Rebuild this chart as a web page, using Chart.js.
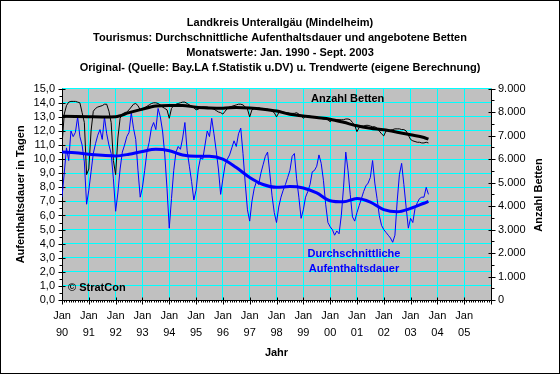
<!DOCTYPE html>
<html lang="de">
<head>
<meta charset="UTF-8">
<title>Landkreis Unterallgäu – Tourismus</title>
<script src="https://cdn.jsdelivr.net/npm/chart.js"></script>
<style>
  body { margin: 0; background: #fff; }
  #rahmen { width: 560px; height: 374px; position: relative; }
</style>
</head>
<body>
<div id="rahmen"><canvas id="chart"></canvas></div>
<script>
// Monatswerte Jan. 1990 - Sept. 2003 (x = Monate seit Jan. 1990)
const jahre = ['90','91','92','93','94','95','96','97','98','99','00','01','02','03','04','05'];

// Durchschnittliche Aufenthaltsdauer in Tagen (Originalwerte)
const dauer = [
  7.3, 9.0, 10.8, 9.9, 12.0, 11.6, 11.9, 13.0, 11.6, 11.0, 9.8, 6.8,
  7.8, 9.1, 10.4, 11.1, 11.7, 12.1, 11.4, 13.0, 11.8, 11.0, 10.4, 8.6,
  6.3, 7.6, 9.3, 10.5, 11.0, 11.6, 11.9, 13.3, 12.2, 11.4, 9.2, 7.3,
  8.0, 9.2, 10.5, 11.2, 12.2, 12.6, 12.1, 13.6, 13.0, 12.0, 10.3, 7.9,
  5.1, 7.2, 9.2, 10.5, 10.9, 10.7, 11.5, 12.6, 10.6, 9.5, 8.4, 7.1,
  7.8, 9.3, 10.1, 10.0, 11.0, 12.0, 11.6, 12.9, 11.8, 10.6, 9.3, 7.5,
  8.6, 9.6, 10.0, 10.3, 10.8, 11.3, 10.9, 11.8, 12.2, 10.4, 8.3, 6.4,
  5.6, 7.0, 7.9, 8.4, 8.2, 9.0, 9.6, 10.2, 10.5, 9.0, 7.4, 6.2,
  5.5, 6.6, 7.3, 7.8, 8.2, 8.7, 9.2, 10.2, 10.4, 8.6, 7.3, 5.8,
  6.4, 7.3, 7.7, 8.2, 9.1, 9.2, 9.5, 10.3, 9.7, 8.5, 6.8, 5.5,
  5.2, 5.0, 4.6, 4.9, 4.7, 6.0, 8.0, 10.5, 9.2, 7.5, 5.9, 5.6,
  6.2, 6.7, 7.2, 7.7, 8.1, 8.3, 8.7, 9.9, 8.3, 7.2, 6.0, 5.3,
  5.0, 4.8, 4.6, 4.4, 4.1, 4.6, 7.0, 8.9, 9.7, 8.2, 6.6, 5.1,
  5.8, 5.5, 6.5, 6.9, 7.2, 7.3, 7.3, 8.0, 7.5
];

// Anzahl angebotener Betten (Originalwerte)
const betten = [
  6600, 7920, 8280, 8430, 8460, 8460, 8460, 8430, 8400, 7980, 7560, 5340,
  5580, 7200, 8040, 8160, 8220, 8250, 8280, 8340, 8340, 8040, 7560, 5940,
  5340, 6900, 7740, 7920, 7980, 8010, 8100, 8220, 8340, 8370, 8280, 8100,
  8100, 8190, 8250, 8310, 8370, 8400, 8400, 8370, 8310, 8220, 8160, 8100,
  7740, 8160, 8280, 8340, 8370, 8400, 8430, 8430, 8370, 8310, 8250, 8190,
  8100, 8130, 8190, 8220, 8220, 8220, 8190, 8160, 8130, 8070, 8010, 7980,
  7920, 8040, 8160, 8220, 8250, 8280, 8310, 8340, 8340, 8310, 8220, 8130,
  7800, 8100, 8160, 8160, 8190, 8160, 8160, 8130, 8130, 8100, 8040, 7980,
  7800, 7980, 8010, 8010, 7980, 7980, 7950, 7950, 7950, 7980, 7920, 7860,
  7740, 7830, 7860, 7830, 7800, 7800, 7770, 7770, 7740, 7710, 7710, 7680,
  7590, 7680, 7680, 7680, 7680, 7680, 7680, 7710, 7710, 7680, 7560, 7440,
  7170, 7350, 7410, 7410, 7440, 7440, 7410, 7380, 7380, 7320, 7200, 7080,
  6990, 7200, 7230, 7230, 7260, 7290, 7290, 7290, 7260, 7260, 7200, 7020,
  6840, 6780, 6750, 6720, 6720, 6690, 6690, 6720, 6690
];

const trendMonate = [0, 6, 12, 18, 24, 30, 36, 42, 48, 54, 60, 66, 72, 78, 84, 90, 96, 102, 108, 114, 120, 126, 132, 138, 144, 150, 156, 162, 164];
const dauerTrend = [10.5, 10.45, 10.35, 10.28, 10.23, 10.35, 10.55, 10.7, 10.6, 10.3, 10.2, 10.2, 10.0, 9.4, 8.7, 8.2, 8.0, 8.05, 7.95, 7.6, 7.05, 6.97, 7.2, 6.95, 6.42, 6.26, 6.5, 6.87, 7.0];
const bettenTrend = [7830, 7820, 7810, 7800, 7810, 7980, 8130, 8260, 8290, 8290, 8210, 8180, 8170, 8200, 8180, 8130, 8050, 7910, 7840, 7770, 7700, 7570, 7420, 7320, 7250, 7150, 7040, 6920, 6850];

const schrift = "'Liberation Sans', Arial, sans-serif";
Chart.defaults.font.family = schrift;
Chart.defaults.font.size = 11;
Chart.defaults.color = '#000';

const monatsPunkte = arr => arr.map((v, i) => ({ x: i, y: v }));
const trendPunkte = arr => arr.map((v, i) => ({ x: trendMonate[i], y: v }));
const tausender = v => String(v).replace(/\B(?=(\d{3})+(?!\d))/g, '.');

const px = v => Math.round(v) + 0.5;

// grauer Hintergrund, Achsen mit Teilstrichen, Beschriftungen im Diagramm
const zeichnen = {
  id: 'zeichnen',
  beforeDraw(chart) {
    const { ctx, chartArea: a } = chart;
    ctx.save();
    ctx.fillStyle = '#fff';
    ctx.fillRect(0, 0, chart.width, chart.height);
    ctx.fillStyle = '#c0c0c0';
    ctx.fillRect(a.left, a.top, a.right - a.left, a.bottom - a.top);
    ctx.restore();
  },
  beforeDatasetsDraw(chart) {
    const { ctx, chartArea: a, scales } = chart;
    ctx.save();
    ctx.strokeStyle = '#000';
    ctx.lineWidth = 1;
    ctx.beginPath();
    ctx.moveTo(px(a.left), a.top); ctx.lineTo(px(a.left), a.bottom + 1);
    ctx.moveTo(px(a.right), a.top); ctx.lineTo(px(a.right), a.bottom + 1);
    ctx.moveTo(a.left, px(a.bottom)); ctx.lineTo(a.right, px(a.bottom));
    for (let v = 0; v <= 15; v += 0.5) {
      const y = px(scales.yL.getPixelForValue(v));
      const lang = Number.isInteger(v);
      ctx.moveTo(px(a.left) - (lang ? 4 : 3), y); ctx.lineTo(px(a.left) + (lang ? 3 : 0), y);
    }
    for (let v = 0; v <= 9000; v += 500) {
      const y = px(scales.yR.getPixelForValue(v));
      const lang = v % 1000 === 0;
      ctx.moveTo(px(a.right) - (lang ? 3 : 0), y); ctx.lineTo(px(a.right) + (lang ? 4 : 3), y);
    }
    for (let m = 0; m <= 192; m++) {
      const x = px(scales.x.getPixelForValue(m));
      const lang = m % 12 === 0;
      ctx.moveTo(x, px(a.bottom) - (lang ? 3 : 0)); ctx.lineTo(x, px(a.bottom) + (lang ? 4 : 2));
    }
    ctx.stroke();
    ctx.restore();
  },
  afterDraw(chart) {
    const { ctx } = chart;
    ctx.save();
    ctx.font = 'bold 11px ' + schrift;
    ctx.textBaseline = 'middle';
    ctx.fillStyle = '#000';
    ctx.textAlign = 'left';
    ctx.fillText('Anzahl Betten', 311, 99);
    ctx.fillText('\u00A9 StratCon', 68, 288);
    ctx.fillStyle = '#0000ff';
    ctx.textAlign = 'center';
    ctx.fillText('Durchschnittliche', 354, 254);
    ctx.fillText('Aufenthaltsdauer', 354, 269);
    ctx.fillStyle = '#000';
    ctx.translate(539, 195);
    ctx.rotate(-Math.PI / 2);
    ctx.fillText('Anzahl Betten', 0, 0);
    ctx.restore();
    ctx.save();
    ctx.strokeStyle = '#000';
    ctx.strokeRect(0.5, 0.5, chart.width - 1, chart.height - 1);
    ctx.restore();
  }
};

new Chart(document.getElementById('chart'), {
  type: 'line',
  data: {
    datasets: [
      { label: 'Betten Trend', data: trendPunkte(bettenTrend), yAxisID: 'yR', borderColor: '#000', borderWidth: 3, cubicInterpolationMode: 'monotone', order: 0 },
      { label: 'Aufenthaltsdauer Trend', data: trendPunkte(dauerTrend), yAxisID: 'yL', borderColor: '#0000ff', borderWidth: 3, cubicInterpolationMode: 'monotone', order: 1 },
      { label: 'Betten', data: monatsPunkte(betten), yAxisID: 'yR', borderColor: '#000', borderWidth: 1, order: 2 },
      { label: 'Aufenthaltsdauer', data: monatsPunkte(dauer), yAxisID: 'yL', borderColor: '#0000ff', borderWidth: 1, order: 3 }
    ]
  },
  options: {
    responsive: true,
    maintainAspectRatio: false,
    animation: false,
    elements: { point: { radius: 0 }, line: { tension: 0 } },
    layout: { padding: 0 },
    plugins: {
      legend: { display: false },
      tooltip: { enabled: false },
      title: {
        display: true,
        text: [
          'Landkreis Unterallgäu (Mindelheim)',
          'Tourismus: Durchschnittliche Aufenthaltsdauer und angebotene Betten',
          'Monatswerte: Jan. 1990 - Sept. 2003',
          'Original- (Quelle: Bay.LA f.Statistik u.DV) u. Trendwerte (eigene Berechnung)'
        ],
        font: { size: 11, weight: 'bold', lineHeight: 1.38 },
        color: '#000',
        padding: { top: 15, bottom: 13 }
      }
    },
    scales: {
      x: {
        type: 'linear', min: 0, max: 192,
        afterFit: s => { s.height = 74; },
        ticks: {
          stepSize: 12, autoSkip: false, maxRotation: 0, padding: 8,
          font: { lineHeight: 1.5 },
          callback: v => (v % 12 === 0 && v / 12 < jahre.length) ? ['Jan', jahre[v / 12]] : ''
        },
        grid: { color: '#00ffff', drawTicks: false },
        border: { display: false },
        title: { display: true, text: 'Jahr', font: { weight: 'bold', size: 11 }, padding: { top: 14, bottom: 14 } }
      },
      yL: {
        position: 'left', min: 0, max: 15,
        afterFit: s => { s.width = 62; },
        ticks: { stepSize: 1, autoSkip: false, padding: 7, callback: v => v.toFixed(1).replace('.', ',') },
        grid: { color: '#00ffff', drawTicks: false },
        border: { display: false },
        title: { display: true, text: 'Aufenthaltsdauer in Tagen', font: { weight: 'bold', size: 11 }, padding: { top: 14, bottom: 14 } }
      },
      yR: {
        position: 'right', min: 0, max: 9000,
        afterFit: s => { s.width = 69; },
        ticks: { stepSize: 1000, autoSkip: false, padding: 7, callback: v => tausender(v) },
        grid: { display: false, drawTicks: false },
        border: { display: false }
      }
    }
  },
  plugins: [zeichnen]
});
</script>
</body>
</html>
